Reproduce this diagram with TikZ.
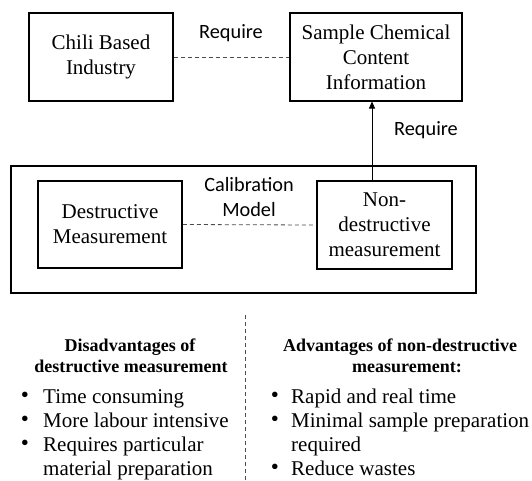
\documentclass[tikz,border=0pt]{standalone}
\usepackage{fontspec}
\setmainfont{Liberation Serif}
\newfontfamily\labfont{Carlito}
\usetikzlibrary{arrows.meta}
\begin{document}
\begin{tikzpicture}[x=1pt,y=-1pt,
  boxstyle/.style={draw,line width=1.5pt,align=center,inner sep=0pt,
    font=\fontsize{21}{25}\selectfont},
  dashline/.style={draw=black!70,line width=0.8pt,dash pattern=on 4pt off 3pt},
  lab/.style={font=\labfont\fontsize{20.3}{25}\selectfont,align=center,inner sep=0pt},
  head/.style={font=\bfseries\fontsize{18}{21}\selectfont,anchor=base,inner sep=0pt},
  item/.style={font=\fontsize{21}{24}\selectfont,anchor=base west,inner sep=0pt},
  bul/.style={font=\fontsize{23}{24}\selectfont,anchor=base,inner sep=0pt}]
\useasboundingbox (0,0) rectangle (532,480);
% top boxes
\node[boxstyle,minimum width=144,minimum height=88] (chili) at (101,57) {Chili Based\\Industry};
\node[boxstyle,minimum width=172,minimum height=88] (sample) at (376,57) {Sample Chemical\\Content\\Information};
\draw[dashline] (chili.east) -- (sample.west);
\node[lab] (req1) at (231,33) {Require};
% outer frame
\node[draw,line width=2.5pt,minimum width=465,minimum height=127,inner sep=0pt] (frame) at (243.5,229.5) {};
\node[boxstyle,minimum width=144,minimum height=87] (dest) at (110,224.5) {Destructive\\Measurement};
\node[boxstyle,minimum width=135,minimum height=88] (nondest) at (384.5,225) {Non-\\destructive\\measurement};
\draw[dashline] (dest.east) -- (nondest.west);
\node[lab] (calib) at (249,197.5) {Calibration\\Model};
\coordinate (arrstart) at (372,181);
\coordinate (arrend) at (372,101.5);
\draw[line width=0.8pt,-{Triangle[length=7pt,width=6pt]}] (arrstart) -- (arrend);
\node[lab] (req2) at (426,130) {Require};
% divider
\coordinate (divtop) at (245,315);
\coordinate (divbot) at (245,480);
\draw[dashline,line width=0.6pt] (divtop) -- (divbot);
% left list
\node[head] (h1) at (130,351) {Disadvantages of};
\node[head] (h2) at (131,372) {destructive measurement};
\node[bul] (b1) at (25,402) {•};
\node[item] (t1) at (43,403) {Time consuming};
\node[bul] (b2) at (25,426) {•};
\node[item] (t2) at (43,427) {More labour intensive};
\node[bul] (b3) at (25,450) {•};
\node[item] (t3) at (43,451) {Requires particular};
\node[item] (t4) at (43,475) {material preparation};
% right list
\node[head] (h3) at (400,351) {Advantages of non-destructive};
\node[head] (h4) at (407,372) {measurement:};
\node[bul] (c1) at (275,402) {•};
\node[item] (u1) at (291,403) {Rapid and real time};
\node[bul] (c2) at (275,426) {•};
\node[item] (u2) at (291,427) {Minimal sample preparation};
\node[item] (u3) at (291,451) {required};
\node[bul] (c3) at (275,474) {•};
\node[item] (u4) at (291,475) {Reduce wastes};
\end{tikzpicture}
\end{document}
